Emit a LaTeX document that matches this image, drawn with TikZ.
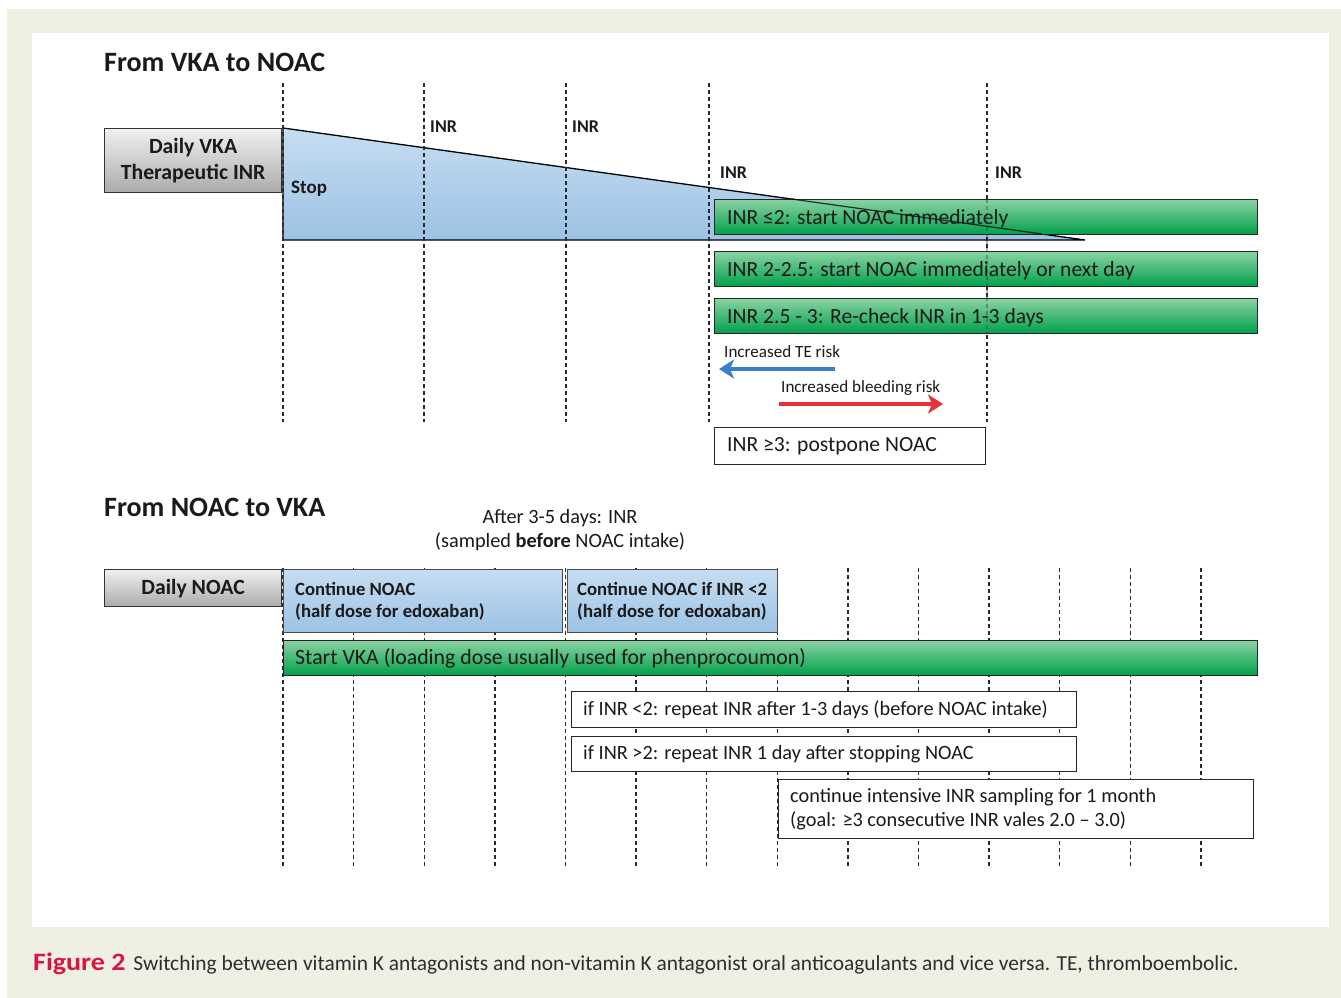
\documentclass[tikz,border=0pt]{standalone}
\usepackage{fontspec}
\setmainfont{Carlito}
\usetikzlibrary{arrows.meta,calc}
\definecolor{bgbeige}{HTML}{EFEFE4}
\definecolor{txt}{HTML}{1A1A1A}
\definecolor{graytop}{HTML}{F0F0F0}
\definecolor{graybot}{HTML}{ABABAB}
\definecolor{bluetop}{HTML}{C6DDF1}
\definecolor{bluebot}{HTML}{9CC2E5}
\definecolor{greentop}{HTML}{8AD2A3}
\definecolor{greenmid}{HTML}{1DAE5A}
\definecolor{greenbot}{HTML}{00A04A}
\definecolor{arrblue}{HTML}{3B7FC8}
\definecolor{arrred}{HTML}{E63238}
\definecolor{figred}{HTML}{D6173F}
\definecolor{captxt}{HTML}{2E2E2E}
\definecolor{dashcol}{HTML}{2A2A2A}
\tikzset{
  graybox/.style={draw=black!80, line width=1.2pt, top color=graytop, bottom color=graybot, anchor=north west, inner sep=0pt},
  bluebox/.style={draw=black!70, line width=1.2pt, top color=bluetop, bottom color=bluebot, anchor=north west, inner sep=0pt},
  greenbar/.style={draw=black!85, line width=1.2pt, top color=greentop, middle color=greenmid, bottom color=greenbot, anchor=north west, inner sep=0pt},
  whitebox/.style={draw=black!85, line width=1pt, fill=white, anchor=north west, inner sep=0pt},
  vdash/.style={draw=dashcol, line width=1.4pt, dash pattern=on 4pt off 3pt},
  boxtext/.style={anchor=west, inner sep=0pt, text=txt, font=\fontsize{21.6}{25}\selectfont},
  wtext/.style={anchor=west, inner sep=0pt, text=txt, font=\fontsize{20.3}{24}\selectfont},
  boldlabel/.style={anchor=base west, inner sep=0pt, text=txt, font=\fontsize{18}{21}\selectfont\bfseries},
  heading/.style={anchor=base west, inner sep=0pt, text=txt, font=\fontsize{28}{32}\selectfont\bfseries},
  risktext/.style={anchor=base west, inner sep=0pt, text=txt, font=\fontsize{17.1}{20}\selectfont},
  bluetext/.style={anchor=west, align=left, inner sep=0pt, text=txt, font=\fontsize{18.7}{22.5}\selectfont\bfseries},
}
\begin{document}
\begin{tikzpicture}[x=1pt,y=-1pt]
\useasboundingbox (0,0) rectangle (1341,998);
\fill[white] (0,0) rectangle (1341,998);
\fill[bgbeige] (7,9) rectangle (1341,998);
\fill[white] (32,33) rectangle (1329,927);

% ---------- From VKA to NOAC ----------
\node[heading] (t1) at (104,71) {From VKA to NOAC};

% wedge
\coordinate (wA) at (283,128);
\coordinate (wB) at (1085,240);
\coordinate (wC) at (283,240);
\shade[top color=bluetop, bottom color=bluebot] (wA) -- (wB) -- (wC) -- cycle;
\draw[black, line width=1.3pt, line join=miter] (wA) -- (wB) -- (wC) -- cycle;

% dashed lines top
\foreach \x/\n in {283/a,424/b,566/c,709/d,987/e}{
  \coordinate (tt\n) at (\x,83);
  \coordinate (tb\n) at (\x,422);
  \draw[vdash] (tt\n) -- (tb\n);
}

\node[graybox, minimum width=177pt, minimum height=64pt] (vka) at (104,128) {};
\node[align=center, inner sep=0pt, text=txt, font=\fontsize{21.7}{26.5}\selectfont\bfseries] (vkat) at (vka.center) {Daily VKA\\Therapeutic INR};

\node[boldlabel, font=\fontsize{19}{22}\selectfont\bfseries] (stop) at (291,193) {Stop};
\node[boldlabel] (inr1) at (430,132) {INR};
\node[boldlabel] (inr2) at (572,132) {INR};
\node[boldlabel] (inr3) at (720,178) {INR};
\node[boldlabel] (inr4) at (995,178) {INR};

% green bars
\node[greenbar, minimum width=543pt, minimum height=35pt] (g1) at (714,199) {};
\node[greenbar, minimum width=543pt, minimum height=35pt] (g2) at (714,251) {};
\node[greenbar, minimum width=543pt, minimum height=35pt] (g3) at (714,298) {};
% lines seen through the bars
\draw[black, opacity=0.75, line width=1.2pt] ($(wA)!0.634!(wB)$) -- ($(wA)!0.946!(wB)$);
\draw[vdash, opacity=0.35] (987,199) -- (987,333);

\node[boxtext] (g1t) at ([xshift=13pt,yshift=-1.5pt]g1.west) {INR ≤2: start NOAC immediately};
\node[boxtext] (g2t) at ([xshift=13pt,yshift=-1.5pt]g2.west) {INR 2-2.5: start NOAC immediately or next day};
\node[boxtext] (g3t) at ([xshift=13pt,yshift=-1.5pt]g3.west) {INR 2.5 - 3: Re-check INR in 1-3 days};

% risk arrows
\node[risktext] (te) at (724,357) {Increased TE risk};
\coordinate (teS) at (835,369);
\coordinate (teE) at (719,369);
\draw[arrblue, line width=3.5pt, -{Stealth[length=15pt,width=19pt,inset=4pt]}] (teS) -- (teE);
\node[risktext] (bl) at (781,392) {Increased bleeding risk};
\coordinate (blS) at (779,404);
\coordinate (blE) at (943,404);
\draw[arrred, line width=3.5pt, -{Stealth[length=15pt,width=19pt,inset=4pt]}] (blS) -- (blE);

\node[whitebox, minimum width=271pt, minimum height=37pt] (post) at (714,427) {};
\node[boxtext] (postt) at ([xshift=13pt]post.west) {INR ≥3: postpone NOAC};

% ---------- From NOAC to VKA ----------
\node[heading] (t2) at (104,516) {From NOAC to VKA};
\node[align=center, inner sep=0pt, text=txt, font=\fontsize{20.3}{24}\selectfont, anchor=base] (after) at (560,547) {After 3-5 days: INR\\(sampled \textbf{before} NOAC intake)};

% dashed lines bottom
\foreach \i in {0,...,13}{
  \pgfmathsetmacro{\xx}{283+70.6*\i}
  \coordinate (bt\i) at (\xx,568);
  \coordinate (bb\i) at (\xx,868);
  \draw[vdash] (bt\i) -- (bb\i);
}

\node[graybox, minimum width=177pt, minimum height=37pt] (noac) at (104,569) {};
\node[inner sep=0pt, text=txt, font=\fontsize{21.7}{24}\selectfont\bfseries] (noact) at (noac.center) {Daily NOAC};

\node[bluebox, minimum width=279pt, minimum height=63pt] (c1) at (283,569) {};
\node[bluetext] (c1t) at ([xshift=12pt]c1.west) {Continue NOAC\\(half dose for edoxaban)};
\node[bluebox, minimum width=210pt, minimum height=63pt] (c2) at (567,569) {};
\node[bluetext] (c2t) at ([xshift=10pt]c2.west) {Continue NOAC if INR <2\\(half dose for edoxaban)};

\node[greenbar, minimum width=974pt, minimum height=35pt] (sv) at (283,640) {};
\node[boxtext, font=\fontsize{21.8}{25}\selectfont] (svt) at ([xshift=12pt]sv.west) {Start VKA (loading dose usually used for phenprocoumon)};

\node[whitebox, minimum width=505pt, minimum height=36pt] (w1) at (571,691) {};
\node[wtext] (w1t) at ([xshift=12pt]w1.west) {if INR <2: repeat INR after 1-3 days (before NOAC intake)};
\node[whitebox, minimum width=505pt, minimum height=35pt] (w2) at (571,736) {};
\node[wtext] (w2t) at ([xshift=12pt]w2.west) {if INR >2: repeat INR 1 day after stopping NOAC};
\node[whitebox, minimum width=475pt, minimum height=59pt] (w3) at (778,779) {};
\node[wtext, align=left] (w3t) at ([xshift=12pt]w3.west) {continue intensive INR sampling for 1 month\\(goal: ≥3 consecutive INR vales 2.0 – 3.0)};

% caption
\node[anchor=base west, inner sep=0pt, font=\fontsize{21.4}{25}\selectfont] (cap) at (33,970) {\textcolor{figred}{\fontsize{25}{28}\selectfont\bfseries\scalebox{1.12}[1]{Figure 2}}\hspace{8pt}\textcolor{captxt}{Switching between vitamin K antagonists and non-vitamin K antagonist oral anticoagulants and vice versa. TE, thromboembolic.}};
\end{tikzpicture}
\end{document}
